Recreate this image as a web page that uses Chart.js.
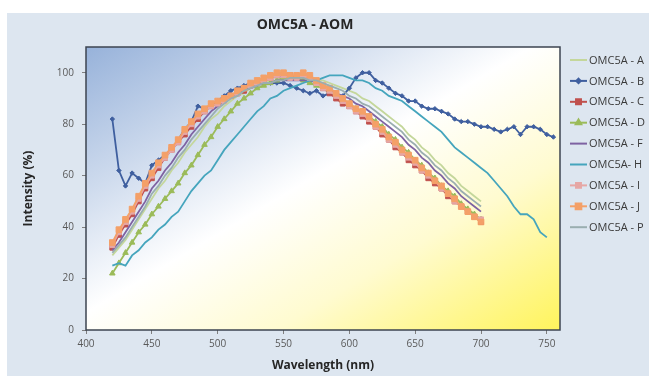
<!DOCTYPE html>
<meta charset="utf-8">
<title>OMC5A - AOM</title>
<script src="https://cdn.jsdelivr.net/npm/chart.js@4/dist/chart.umd.min.js"></script>
<style>
body {
	margin: 0;
	background: #fff;
}
</style>
<canvas id="chart" width="649" height="376"></canvas>
<script>
// wavelengths in nm, one reading every 5 nm
const wavelengths = [
	420, 425, 430, 435, 440, 445, 450, 455, 460, 465,
	470, 475, 480, 485, 490, 495, 500, 505, 510, 515,
	520, 525, 530, 535, 540, 545, 550, 555, 560, 565,
	570, 575, 580, 585, 590, 595, 600, 605, 610, 615,
	620, 625, 630, 635, 640, 645, 650, 655, 660, 665,
	670, 675, 680, 685, 690, 695, 700, 705, 710, 715,
	720, 725, 730, 735, 740, 745, 750, 755
];

const omcA = [29,32,35,39,43,47,51,55,58,62, 65,69,72,75,79,82,84,87,89,91, 92,94,95,96,97,97,98,98,98,98, 97,97,97,96,95,94,93,92,90,89, 87,85,83,81,79,76,74,71,69,66, 64,61,59,56,54,52,50];
const omcB = [82,62,56,61,59,57,64,66,68,70, 74,78,81,87,86,87,89,91,93,94, 95,96,97,96,96,96,96,95,94,93, 92,93,91,92,91,91,94,98,100,100, 97,96,94,92,91,89,89,87,86,86, 85,84,82,81,81,80,79,79,78,77, 78,79,76,79,79,78,76,75];
const omcC = [32,37,41,45,50,55,59,63,67,70, 73,76,79,82,85,87,88,90,91,92, 93,95,96,97,98,99,99,99,98,99, 98,96,94,92,90,88,87,85,83,81, 79,76,74,71,69,66,64,62,59,57, 55,52,50,48,46,44,42];
const omcD = [22,26,30,34,38,41,45,48,51,54, 57,61,64,68,72,75,79,82,85,88, 90,92,94,95,96,97,98,98,98,97, 96,95,94,93,91,89,88,86,85,83, 81,79,76,74,71,69,66,64,61,59, 56,54,52,49,47,45,43];
const omcF = [31,34,38,42,46,50,55,58,62,65, 69,72,76,79,82,85,87,89,91,92, 93,94,95,96,96,97,97,97,97,97, 97,96,95,94,92,91,90,88,87,85, 83,81,79,77,75,72,70,67,65,62, 60,57,55,52,50,48,46];
const omcH = [25,26,25,29,31,34,36,39,41,44, 46,50,54,57,60,62,66,70,73,76, 79,82,85,87,90,91,93,94,95,96, 97,97,98,99,99,99,98,97,97,96, 94,93,91,90,89,87,85,83,81,79, 77,74,71,69,67,65,63,61,58,55, 52,48,45,45,43,38,36];
const omcI = [33,38,42,46,51,56,60,64,67,70, 73,77,80,83,85,87,88,89,91,92, 94,95,96,97,98,99,99,98,98,99, 98,96,94,93,91,89,87,85,84,82, 79,77,74,72,69,67,65,62,60,58, 55,53,50,48,46,44,43];
const omcJ = [34,39,43,47,52,57,61,65,68,71, 74,78,81,84,86,88,89,90,91,93, 94,96,97,98,99,100,100,99,99,100, 99,97,95,94,92,90,88,86,85,83, 80,78,75,73,70,68,66,63,61,58, 56,53,51,48,46,44,42];
const omcP = [30,33,36,40,44,48,53,56,60,63, 67,70,74,77,80,83,86,88,90,91, 93,94,95,96,96,97,97,98,98,98, 97,97,96,95,94,93,91,90,88,87, 85,83,81,79,77,74,72,69,67,64, 62,59,57,54,52,50,48];

const xTicks = [400, 450, 500, 550, 600, 650, 700, 750];
const yTicks = [0, 20, 40, 60, 80, 100];

const series = [
	{label: 'OMC5A - A', values: omcA, color: '#c4d79b', style: false, radius: 0},
	{label: 'OMC5A - B', values: omcB, color: '#3f5f9f', style: 'rectRot', radius: 2.2},
	{label: 'OMC5A - C', values: omcC, color: '#c0504d', style: 'rect', radius: 3.5},
	{label: 'OMC5A - D', values: omcD, color: '#9bbb59', style: 'triangle', radius: 3.2},
	{label: 'OMC5A - F', values: omcF, color: '#7e62a2', style: false, radius: 0},
	{label: 'OMC5A- H', values: omcH, color: '#45a5bd', style: false, radius: 0},
	{label: 'OMC5A - I', values: omcI, color: '#e6a7a5', style: 'rect', radius: 3.5},
	{label: 'OMC5A - J', values: omcJ, color: '#f4a068', style: 'rect', radius: 4},
	{label: 'OMC5A - P', values: omcP, color: '#9aaeb0', style: false, radius: 0},
];

const font = "'Open Sans', sans-serif";

// background panel, gradient plot area, frame, title and legend
const decor = {
	id: 'decor',
	beforeDraw(chart) {
		const {ctx, chartArea: a} = chart;
		ctx.save();
		ctx.fillStyle = '#ffffff';
		ctx.fillRect(0, 0, chart.width, chart.height);
		ctx.fillStyle = '#dde6f0';
		ctx.fillRect(7, 13, chart.width - 7, chart.height - 13);

		const w = a.right - a.left, h = a.bottom - a.top;
		const k = 2 * w * h / (w * w + h * h);
		const g = ctx.createLinearGradient(a.left, a.top, a.left + h * k, a.top + w * k);
		g.addColorStop(0, '#97b2da');
		g.addColorStop(0.25, '#cddaed');
		g.addColorStop(0.47, '#ffffff');
		g.addColorStop(0.7, '#fffbd0');
		g.addColorStop(1, '#fff45c');
		ctx.fillStyle = g;
		ctx.fillRect(a.left, a.top, w, h);
		ctx.restore();
	},
	afterDraw(chart) {
		const {ctx, chartArea: a} = chart;
		ctx.save();
		ctx.strokeStyle = '#3c4450';
		ctx.lineWidth = 1.5;
		ctx.strokeRect(a.left, a.top, a.right - a.left, a.bottom - a.top);

		ctx.fillStyle = '#262626';
		ctx.font = `bold 14px ${font}`;
		ctx.textAlign = 'center';
		ctx.textBaseline = 'middle';
		ctx.fillText('OMC5A - AOM', 305, 25);

		ctx.font = `11px ${font}`;
		ctx.textAlign = 'left';
		series.forEach((s, i) => {
			const y = 60 + i * 20.9;
			ctx.strokeStyle = s.color;
			ctx.fillStyle = s.color;
			ctx.lineWidth = 2;
			ctx.beginPath();
			ctx.moveTo(570, y);
			ctx.lineTo(587, y);
			ctx.stroke();
			if (s.style) {
				Chart.helpers.drawPoint(ctx, {pointStyle: s.style, radius: s.radius, rotation: 0, borderWidth: 1}, 578.5, y);
			}
			ctx.fillStyle = '#3a3a3a';
			ctx.fillText(s.label, 589, y + 0.5);
		});
		ctx.restore();
	}
};

const onlyTicks = list => scale => {
	scale.ticks = list.map(v => ({value: v}));
};

new Chart(document.getElementById('chart'), {
	type: 'line',
	data: {
		datasets: series.map((s, i) => ({
			label: s.label,
			data: s.values.map((v, j) => ({x: wavelengths[j], y: v})),
			borderColor: s.color,
			backgroundColor: s.color,
			borderWidth: 1.8,
			pointStyle: s.style || 'circle',
			pointRadius: s.radius,
			pointBorderWidth: 1,
			tension: 0,
			order: series.length - i,
		}))
	},
	options: {
		responsive: false,
		animation: false,
		devicePixelRatio: 1,
		layout: {padding: {left: 0, right: 89, top: 47, bottom: 0}},
		plugins: {
			legend: {display: false},
			tooltip: {enabled: false},
		},
		scales: {
			x: {
				type: 'linear',
				min: 400,
				max: 760,
				afterBuildTicks: onlyTicks(xTicks),
				afterFit: scale => { scale.height = 46; },
				ticks: {color: '#595959', font: {family: font, size: 10}, padding: 4},
				grid: {drawOnChartArea: false, tickLength: 4, color: '#7f7f7f'},
				border: {display: false},
				title: {
					display: true,
					text: 'Wavelength (nm)',
					color: '#262626',
					font: {family: font, size: 12, weight: 'bold'},
					padding: {top: 0, bottom: 3},
				},
			},
			y: {
				min: 0,
				max: 110,
				afterBuildTicks: onlyTicks(yTicks),
				afterFit: scale => { scale.width = 86; },
				ticks: {color: '#595959', font: {family: font, size: 10}, padding: 8},
				grid: {drawOnChartArea: false, tickLength: 4, color: '#7f7f7f'},
				border: {display: false},
				title: {
					display: true,
					text: 'Intensity (%)',
					color: '#262626',
					font: {family: font, size: 12, weight: 'bold'},
					padding: {top: 21, bottom: 0},
				},
			},
		},
	},
	plugins: [decor],
});
</script>
